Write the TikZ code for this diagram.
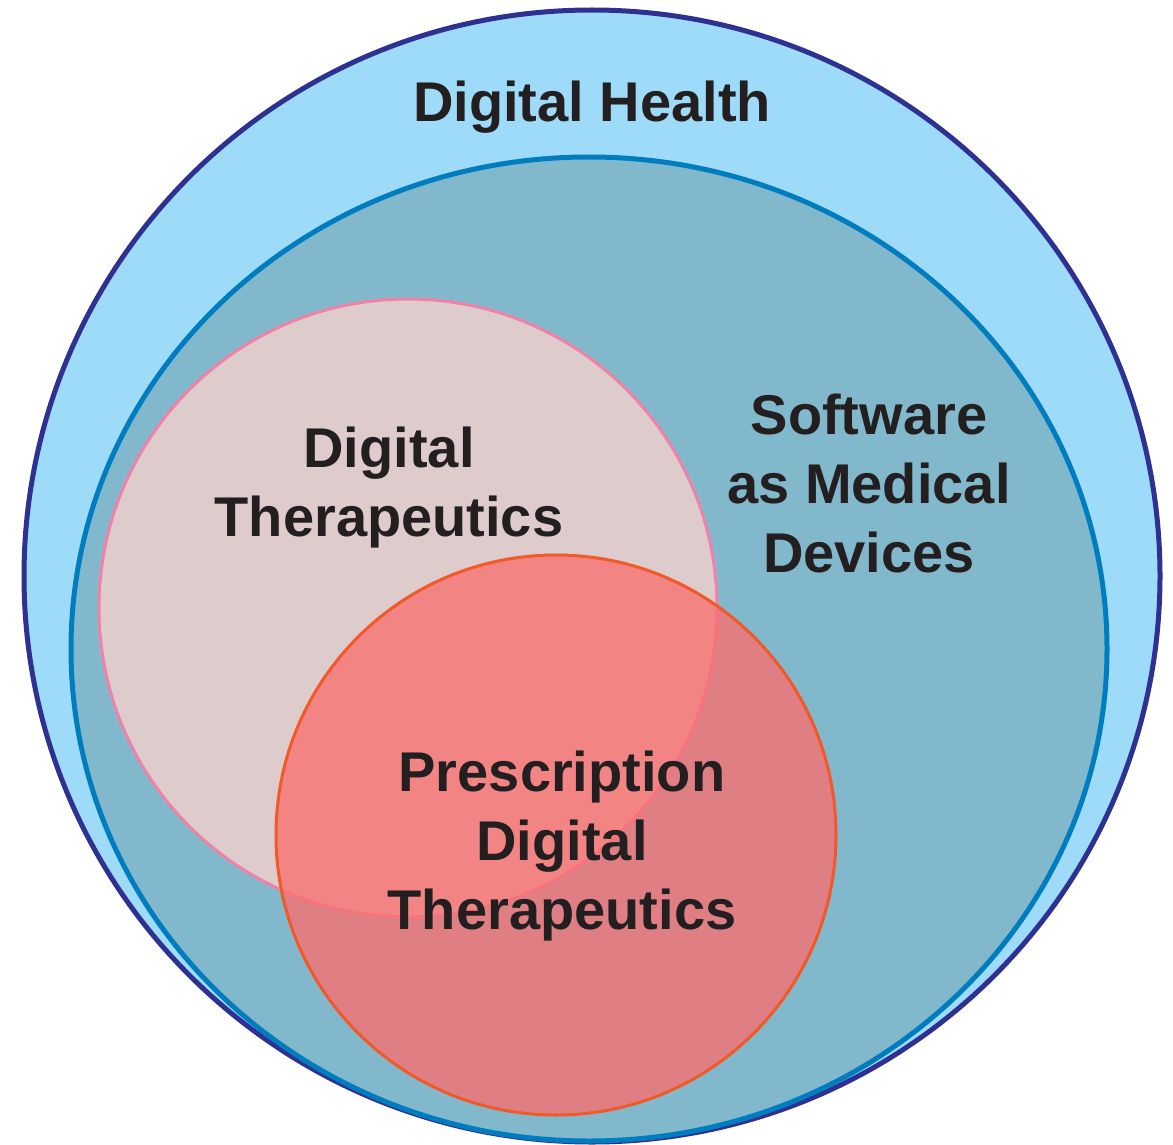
\documentclass[tikz,border=0pt]{standalone}
\usepackage{fontspec}
\setmainfont{Liberation Sans}
\usepackage{tikz}

\definecolor{healthfill}{RGB}{157,219,248}
\definecolor{healthline}{RGB}{46,49,146}
\definecolor{samdfill}{RGB}{130,184,204}
\definecolor{samdline}{RGB}{0,125,190}
\definecolor{dtxfill}{RGB}{222,204,204}
\definecolor{dtxline}{RGB}{240,130,170}
\definecolor{pdtfill}{RGB}{250,112,112}
\definecolor{pdtline}{RGB}{240,90,40}
\definecolor{labelgray}{RGB}{35,31,32}

\tikzset{
    setname/.style={font=\bfseries\fontsize{56}{69}\selectfont, text=labelgray,
        align=center, inner sep=0pt}
}

\begin{document}
\begin{tikzpicture}[x=1pt,y=-1pt]
            \useasboundingbox (0,0) rectangle (1173,1145);

            \draw[line width=5pt, draw=healthline, fill=healthfill]
                (592,576) ellipse [x radius=568, y radius=566];
            \draw[line width=5pt, draw=samdline, fill=samdfill]
                (589,649) ellipse [x radius=518, y radius=492];
            \draw[line width=3pt, draw=dtxline, fill=dtxfill]
                (408,608) circle [radius=309];
            \draw[line width=3pt, draw=pdtline, fill=pdtfill, fill opacity=0.78]
                (556,835) circle [radius=280];

            \node[setname, anchor=base] (health) at (592,122) {Digital Health};
            \node[setname] (samd) at (869,483) {Software\\as Medical\\Devices};
            \node[setname] (dtx) at (389,488) {Digital\\Therapeutics};
            \node[setname] (pdt) at (562,846) {Prescription\\Digital\\Therapeutics};
        \end{tikzpicture}
\end{document}
